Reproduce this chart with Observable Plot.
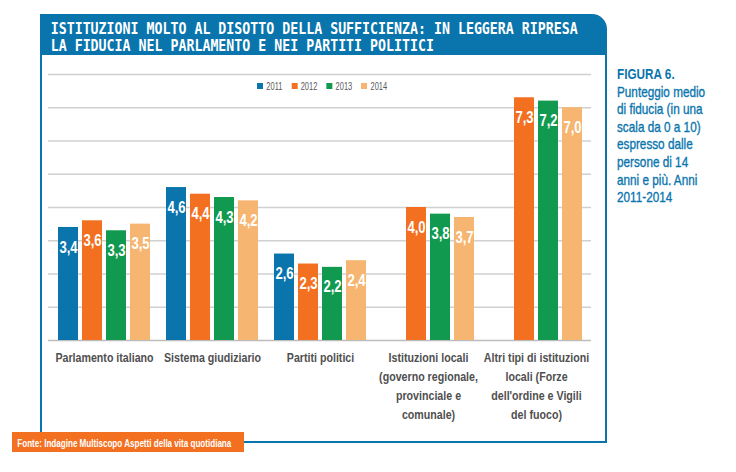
<!DOCTYPE html>
<html>
<head>
<meta charset="utf-8">
<script src="https://cdn.jsdelivr.net/npm/d3@7"></script>
<script src="https://cdn.jsdelivr.net/npm/@observablehq/plot@0.6"></script>
<style>
  html, body { margin: 0; padding: 0; background: #fff; }
  #root { position: relative; width: 736px; height: 472px; overflow: hidden; background: #fff;
    font-family: 'Liberation Sans', Arial, sans-serif; }
  .layer { position: absolute; left: 0; top: 60px; }
  #deco { position: absolute; left: 0; top: 0; }
  #legend { position: absolute; left: 257px; top: 77px; transform: scaleX(0.68); transform-origin: 0 0; }
  #legend .lg-swatches { min-height: 17px !important; margin: 0 !important; }
  #legend .lg-swatch { margin-right: 13.2px !important; }
  #legend .lg-swatch > svg { margin-right: 4.9px !important; }
  #caption { position: absolute; left: 617px; top: 66px; font-size: 14.5px; line-height: 17.6px;
    color: #0a75ad; -webkit-text-stroke: 0.35px #0a75ad; white-space: nowrap;
    transform: scaleX(0.81); transform-origin: 0 0; }
  #caption b { -webkit-text-stroke: 0; }
</style>
</head>
<body>
<div id="root">
  <svg id="deco" width="736" height="472">
    <path d="M40,55 V14 H592 A15,15 0 0 1 607,29 V55 Z" fill="#0a75ad"></path>
    <path d="M41,55 V442 H606 V55" fill="none" stroke="#0a75ad" stroke-width="2"></path>
    <g id="titleText" font-family="'DejaVu Sans Mono', 'Liberation Mono', monospace" font-weight="bold" font-size="15.5" fill="#fff"></g>
    <rect x="12" y="432" width="232" height="20" fill="#f37021"></rect>
    <text id="footText" x="17.3" y="447.3" font-family="'Liberation Sans', Arial, sans-serif"
      font-weight="bold" font-size="11.5" fill="#fff" textLength="214" lengthAdjust="spacingAndGlyphs"></text>
  </svg>
  <div id="gridLayer" class="layer"></div>
  <div id="barLayer" class="layer"></div>
  <div id="legend"></div>
  <div id="caption"></div>
</div>
<script>
// ---- data ----
const titleLines = [
  "ISTITUZIONI MOLTO AL DISOTTO DELLA SUFFICIENZA: IN LEGGERA RIPRESA",
  "LA FIDUCIA NEL PARLAMENTO E NEI PARTITI POLITICI"
];
const captionTitle = "FIGURA 6.";
const captionLines = ["Punteggio medio", "di fiducia (in una", "scala da 0 a 10)", "espresso dalle", "persone di 14", "anni e più. Anni", "2011-2014"];
const sourceText = "Fonte: Indagine Multiscopo Aspetti della vita quotidiana";

const categories = ["Parlamento", "Giudiziario", "Partiti", "Locali", "Altri"];
const categoryLabels = [
  "Parlamento italiano",
  "Sistema giudiziario",
  "Partiti politici",
  "Istituzioni locali\n(governo regionale,\nprovinciale e\ncomunale)",
  "Altri tipi di istituzioni\nlocali (Forze\ndell'ordine e Vigili\ndel fuoco)"
];
const years = ["2011", "2012", "2013", "2014"];
const values2011 = [3.4, 4.6, 2.6, null, null];
const values2012 = [3.6, 4.4, 2.3, 4.0, 7.3];
const values2013 = [3.3, 4.3, 2.2, 3.8, 7.2];
const values2014 = [3.5, 4.2, 2.4, 3.7, 7.0];
const yearColors = ["#0a75ad", "#f37021", "#119a4f", "#f6b671"];
const gridValues = [1, 2, 3, 4, 5, 6, 7, 8];

// ---- build tables ----
const seriesByYear = [values2011, values2012, values2013, values2014];
const data = [];
categories.forEach((c, i) => {
  years.forEach((y, j) => {
    const v = seriesByYear[j][i];
    if (v != null) data.push({cat: c, year: y, value: v});
  });
});
const catData = categories.map((c, i) => ({cat: c, label: categoryLabels[i]}));
const fmt = v => d3.format(".1f")(v).replace(".", ",");

// ---- decorations text ----
const NS = "http://www.w3.org/2000/svg";
const tg = document.getElementById("titleText");
const titleLens = [527, 527 * titleLines[1].length / titleLines[0].length];
titleLines.forEach((t, i) => {
  const el = document.createElementNS(NS, "text");
  el.setAttribute("x", 50.7);
  el.setAttribute("y", 34 + i * 16.7);
  el.setAttribute("textLength", titleLens[i]);
  el.setAttribute("lengthAdjust", "spacingAndGlyphs");
  el.textContent = t;
  tg.appendChild(el);
});
document.getElementById("footText").textContent = sourceText;
document.getElementById("caption").innerHTML =
  "<b>" + captionTitle + "</b><br>" + captionLines.join("<br>");

// ---- plots ----
const W = 736, H = 380;
const margins = {marginTop: 14, marginBottom: 100, marginLeft: 48, marginRight: 145};
const font = "'Liberation Sans', Arial, sans-serif";

const grid = Plot.plot({
  width: W, height: H, ...margins,
  style: {background: "transparent", overflow: "visible"},
  y: {domain: [0, 8], axis: null},
  marks: [
    Plot.ruleY(gridValues, {stroke: "#d0d0d0", strokeWidth: 1.3}),
    Plot.ruleY([0], {stroke: "#bcbcbc", strokeWidth: 1.5})
  ]
});
document.getElementById("gridLayer").appendChild(grid);

const bars = Plot.plot({
  width: W, height: H, ...margins,
  style: {background: "transparent", overflow: "visible", fontFamily: font},
  fx: {domain: categories, paddingInner: 0.132, paddingOuter: 0.074, axis: null, label: null},
  x: {domain: years, paddingInner: 0.163, paddingOuter: 0, axis: null},
  y: {domain: [0, 8], axis: null},
  color: {domain: years, range: yearColors},
  marks: [
    Plot.barY(data, {fx: "cat", x: "year", y: "value", fill: "year"}),
    Plot.text(data, {fx: "cat", x: "year", y: "value", text: d => fmt(d.value), dy: 20,
      fill: "white", fontSize: 16, fontWeight: "bold"}),
    Plot.text(catData, {fx: "cat", text: "label", frameAnchor: "bottom", lineAnchor: "top", dy: 8,
      fontSize: 13, fontWeight: "bold", fill: "#4f4f4f", lineHeight: 19 / 13})
  ]
});
// condense the text glyphs horizontally around their anchor points
bars.querySelectorAll("text").forEach(t => {
  const tr = t.getAttribute("transform");
  if (tr) t.setAttribute("transform", tr + " scale(0.82,1)");
});
document.getElementById("barLayer").appendChild(bars);

const legend = Plot.legend({
  color: {domain: years, range: yearColors},
  legend: "swatches", swatchWidth: 8.8, swatchHeight: 6, className: "lg",
  style: {fontFamily: font, fontSize: "11px", color: "#58595b"}
});
document.getElementById("legend").appendChild(legend);
</script>
</body>
</html>
